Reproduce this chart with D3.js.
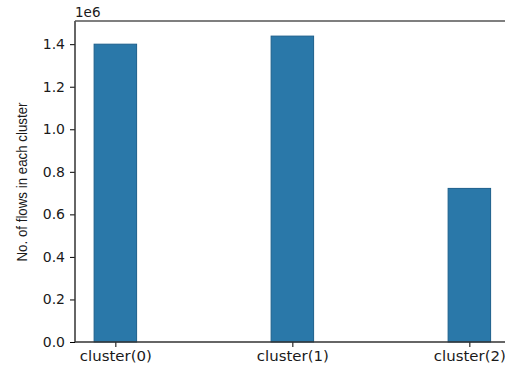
<!DOCTYPE html>
<html>
<head>
<meta charset="utf-8">
<script src="https://cdn.jsdelivr.net/npm/d3@7"></script>
<style>
  body { margin: 0; background: #fff; }
  text { font-family: "DejaVu Sans", sans-serif; fill: #1a1a1a; }
</style>
</head>
<body>
<script>
let clusters = ["cluster(0)", "cluster(1)", "cluster(2)"];
let flows = [1.40e6, 1.438e6, 0.722e6];
let yTicks = [0, 0.2e6, 0.4e6, 0.6e6, 0.8e6, 1.0e6, 1.2e6, 1.4e6];

let width = 505,
  height = 366,
  marginLeft = 75,
  marginTop = 21,
  marginBottom = 24,
  barWidth = 0.24;

let svg = d3.select("body").append("svg")
  .attr("width", width)
  .attr("height", height);

// x: positions 0..2, matplotlib style padding
let x = d3.scaleLinear()
  .domain([-0.228, 2.228])
  .range([marginLeft, marginLeft + 2.456 * 177]);

let y = d3.scaleLinear()
  .domain([0, 1.509e6])
  .range([height - marginBottom, marginTop]);

// bars
svg.selectAll("rect.bar")
  .data(flows)
  .enter()
  .append("rect")
  .attr("class", "bar")
  .attr("x", (d, i) => x(i - barWidth / 2))
  .attr("y", d => y(d))
  .attr("width", (d, i) => x(i + barWidth / 2) - x(i - barWidth / 2))
  .attr("height", d => y(0) - y(d))
  .attr("fill", "#2a78a9")
  .attr("stroke", "#1c5f8c")
  .attr("stroke-width", 1);

// y axis
let yAxis = svg.append("g")
  .attr("transform", `translate(${marginLeft},0)`)
  .call(d3.axisLeft(y).tickValues(yTicks).tickFormat(d => (d / 1e6).toFixed(1)).tickSize(5).tickPadding(5));
yAxis.select(".domain").remove();
yAxis.selectAll("text").style("font-size", "14px");

// x axis
let xAxis = svg.append("g")
  .attr("transform", `translate(0,${height - marginBottom})`)
  .call(d3.axisBottom(x).tickValues([0, 1, 2]).tickFormat(i => clusters[i]).tickSize(5).tickPadding(4));
xAxis.select(".domain").remove();
xAxis.selectAll("text")
  .style("font-size", "14px")
  .attr("textLength", 72)
  .attr("lengthAdjust", "spacingAndGlyphs");

// spines
svg.append("line")
  .attr("x1", marginLeft).attr("x2", marginLeft)
  .attr("y1", marginTop).attr("y2", height - marginBottom)
  .attr("stroke", "#333").attr("stroke-width", 1.5);
svg.append("line")
  .attr("x1", marginLeft).attr("x2", width)
  .attr("y1", height - marginBottom).attr("y2", height - marginBottom)
  .attr("stroke", "#333").attr("stroke-width", 1.5);
svg.append("line")
  .attr("x1", marginLeft).attr("x2", width)
  .attr("y1", marginTop).attr("y2", marginTop)
  .attr("stroke", "#555").attr("stroke-width", 1.5);

// offset text
svg.append("text")
  .attr("x", marginLeft)
  .attr("y", marginTop - 4)
  .style("font-size", "13.5px")
  .text("1e6");

// y label
svg.append("text")
  .attr("transform", "translate(27,182) rotate(-90)")
  .attr("text-anchor", "middle")
  .attr("textLength", 159)
  .attr("lengthAdjust", "spacingAndGlyphs")
  .style("font-family", "'Liberation Sans Narrow', 'Liberation Sans', sans-serif")
  .style("font-size", "15px")
  .text("No. of flows in each cluster");
</script>
</body>
</html>
